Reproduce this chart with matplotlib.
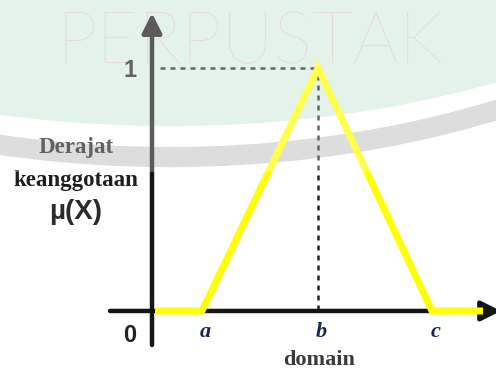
import matplotlib
matplotlib.use("Agg")
import matplotlib.pyplot as plt
from matplotlib.patches import Ellipse

# Fungsi keanggotaan segitiga
mf_x = [0.06, 1.0, 3.32, 5.6, 6.62]
mf_y = [0, 0, 1, 0, 0]
tick_pos = [1.0, 3.32, 5.6]
tick_labels = ["a", "b", "c"]

serif = "Liberation Serif"
sans = "Liberation Sans"

fig = plt.figure(figsize=(4.96, 3.70), dpi=100)
ax = fig.add_axes([0, 0, 1, 1])
ax.set_xlim(-3.04, 6.88)
ax.set_ylim(-0.243, 1.28)
ax.axis("off")

# latar watermark
ax.add_patch(Ellipse((0.36, 2.407), 28.72, 3.292, facecolor=(215/255, 238/255, 226/255), edgecolor="none", zorder=0))
ax.add_patch(Ellipse((0.36, 2.407), 28.72, 3.547, facecolor="none", edgecolor=(0.81, 0.81, 0.81), lw=14.5, zorder=0))
ax.text(-1.9, 1.02, "PERPUSTAK", fontsize=52, family="Lato", fontweight="light",
        color="#e4c2c8", va="baseline", ha="left", zorder=1)

# sumbu
ax.annotate("", xy=(0, 1.226), xytext=(0, -0.14), annotation_clip=False,
            arrowprops=dict(arrowstyle="-|>", lw=3.2, color="#151515", mutation_scale=30,
                            shrinkA=0, shrinkB=0), zorder=3)
ax.annotate("", xy=(6.98, 0), xytext=(-0.84, 0), annotation_clip=False,
            arrowprops=dict(arrowstyle="-|>", lw=3.2, color="#151515", mutation_scale=30,
                            shrinkA=0, shrinkB=0), zorder=3)

# garis putus-putus
ax.plot([0.16, mf_x[2]], [1, 1], color="#222222", lw=1.8, linestyle=(0, (2.0, 2.0)), zorder=2)
ax.plot([mf_x[2], mf_x[2]], [0.97, 0], color="#222222", lw=1.8, linestyle=(0, (2.0, 2.0)), zorder=2)

# garis kuning
ax.plot(mf_x, mf_y, color="#ffff00", lw=5, solid_joinstyle="miter", solid_capstyle="butt", zorder=4)

ax.text(-0.44, 0.988, "1", fontsize=17, family=sans, fontweight="bold", color="#222222",
        ha="center", va="center")
ax.text(-0.44, -0.099, "0", fontsize=17, family=sans, fontweight="bold", color="#222222",
        ha="center", va="center")

for p, lab in zip(tick_pos, tick_labels):
    ax.text(p + 0.07, -0.086, lab, fontsize=16, family=serif, fontweight="bold", style="italic",
            color="#1a2550", ha="center", va="center")

ax.text(3.34, -0.2, "domain", fontsize=16, family=serif, fontweight="bold", color="#3a3a3a",
        ha="center", va="center")
ax.text(-1.52, 0.671, "Derajat", fontsize=16.5, family=serif, fontweight="bold", color="#1e1e1e",
        ha="center", va="center")
ax.text(-1.52, 0.539, "keanggotaan", fontsize=16.5, family=serif, fontweight="bold", color="#1e1e1e",
        ha="center", va="center")
ax.text(-1.52, 0.407, "\u00b5(X)", fontsize=20, family=sans, fontweight="bold", color="#2a2a2a",
        ha="center", va="center")

# lapisan putih transparan di bagian atas
ax.axhspan(0.572, 1.3, color="white", alpha=0.3, lw=0, zorder=10)

fig.savefig("out.png", dpi=100)
